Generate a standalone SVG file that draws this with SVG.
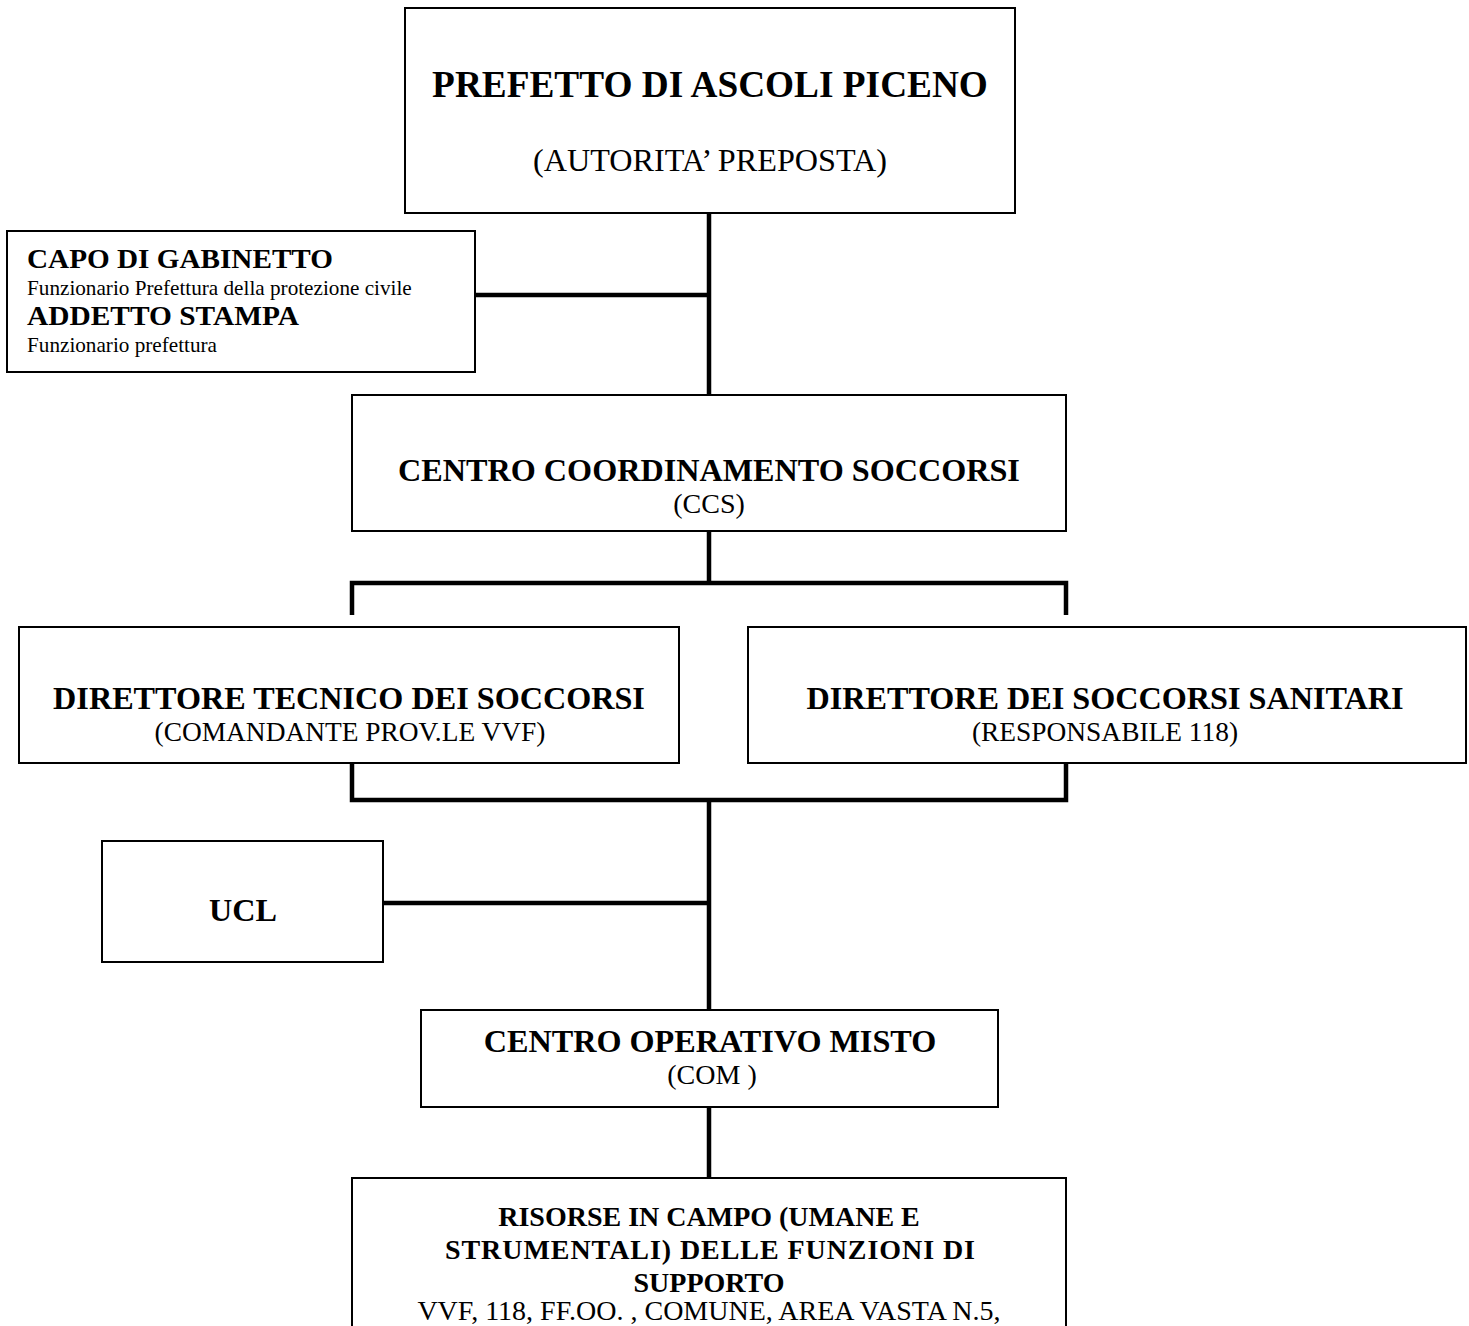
<svg xmlns="http://www.w3.org/2000/svg" width="1469" height="1326" viewBox="0 0 1469 1326">
<style>
.box{fill:#fff;stroke:#000;stroke-width:2}
.con{fill:none;stroke:#000;stroke-width:4.5}
text{font-family:"Liberation Serif","Times New Roman",serif;fill:#000}
.b{font-weight:bold}
.c{text-anchor:middle}
.t16{font-size:37.3px}
.t14{font-size:32.2px}
.t12{font-size:28px}
.t9{font-size:21.2px}
</style>
<rect width="1469" height="1326" fill="#fff"/>
<g id="connectors">
<path class="con" d="M709 213V395M475 295H709"/>
<path class="con" d="M709 531V583M352 615V583H1066V615"/>
<path class="con" d="M352 763V800H1066V763M709 800V1010M383 903H709"/>
<path class="con" d="M709 1107V1178"/>
</g>
<g id="prefetto">
<rect class="box" x="405" y="8" width="610" height="205"/>
<text class="b c t16" x="710" y="97">PREFETTO DI ASCOLI PICENO</text>
<text class="c t14" x="710" y="171">(AUTORITA’ PREPOSTA)</text>
</g>
<g id="capo">
<rect class="box" x="7" y="231" width="468" height="141"/>
<text class="b t12" x="27" y="268" textLength="306" lengthAdjust="spacingAndGlyphs">CAPO DI GABINETTO</text>
<text class="t9" x="27" y="295">Funzionario Prefettura della protezione civile</text>
<text class="b t12" x="27" y="325" textLength="272" lengthAdjust="spacingAndGlyphs">ADDETTO STAMPA</text>
<text class="t9" x="27" y="352">Funzionario prefettura</text>
</g>
<g id="ccs">
<rect class="box" x="352" y="395" width="714" height="136"/>
<text class="b c t14" x="709" y="481">CENTRO COORDINAMENTO SOCCORSI</text>
<text class="c t12" x="709" y="513">(CCS)</text>
</g>
<g id="dts">
<rect class="box" x="19" y="627" width="660" height="136"/>
<text class="b c t14" x="349" y="709">DIRETTORE TECNICO DEI SOCCORSI</text>
<text class="c" x="350" y="741" font-size="27.4">(COMANDANTE PROV.LE VVF)</text>
</g>
<g id="dss">
<rect class="box" x="748" y="627" width="718" height="136"/>
<text class="b c t14" x="1105" y="709">DIRETTORE DEI SOCCORSI SANITARI</text>
<text class="c" x="1105" y="741" font-size="27.4">(RESPONSABILE 118)</text>
</g>
<g id="ucl">
<rect class="box" x="102" y="841" width="281" height="121"/>
<text class="b c t14" x="243" y="921">UCL</text>
</g>
<g id="com">
<rect class="box" x="421" y="1010" width="577" height="97"/>
<text class="b c t14" x="710" y="1052">CENTRO OPERATIVO MISTO</text>
<text class="c t12" x="712" y="1084">(COM )</text>
</g>
<g id="risorse">
<rect class="box" x="352" y="1178" width="714" height="160"/>
<text class="b c t12" x="709" y="1226">RISORSE IN CAMPO (UMANE E</text>
<text class="b c t12" x="710" y="1259" textLength="530" lengthAdjust="spacing">STRUMENTALI) DELLE FUNZIONI DI</text>
<text class="b c t12" x="709" y="1292">SUPPORTO</text>
<text class="c t12" x="709" y="1320">VVF, 118, FF.OO. , COMUNE, AREA VASTA N.5,</text>
</g>
</svg>
